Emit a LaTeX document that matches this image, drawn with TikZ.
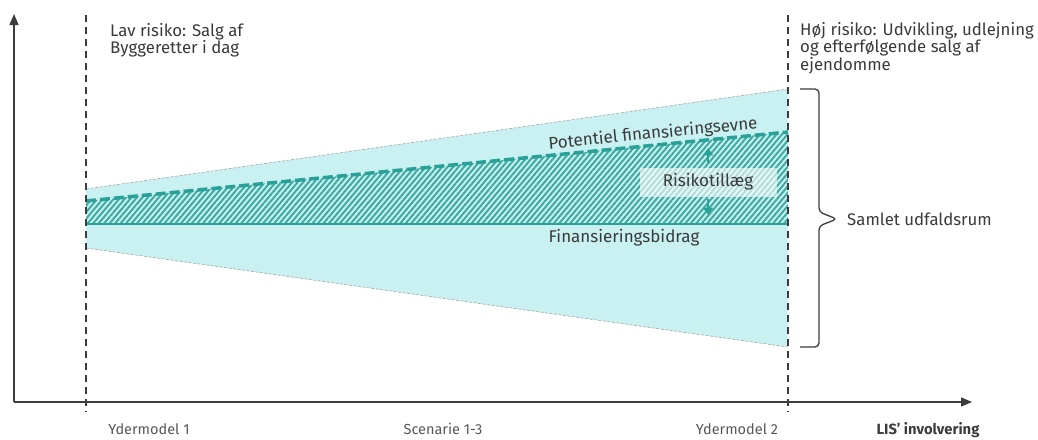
\documentclass[tikz,border=0pt]{standalone}
\usepackage{fontspec}
\setmainfont{Fira Sans}
\usetikzlibrary{arrows.meta,positioning,patterns.meta}

\definecolor{fancyan}{HTML}{C9F1F1}
\definecolor{finteal}{HTML}{2AA198}
\definecolor{axisgray}{HTML}{3C3C3C}
\definecolor{txtgray}{HTML}{3A3A3A}

\begin{document}
\begin{tikzpicture}[x=1pt,y=-1pt]
	\tikzstyle{axis}
	  =[draw=axisgray, line width=1.4pt, -{Triangle[length=11pt,width=9pt]}]
	\tikzstyle{model}
	  =[draw=axisgray, line width=1.3pt, dash pattern=on 7pt off 5pt]
	\tikzstyle{fanedge}
	  =[draw=gray!70, line width=0.6pt, dash pattern=on 3pt off 1.5pt]
	\tikzstyle{note}
	  =[text=txtgray, font=\fontsize{16.8}{15.5}\selectfont, align=left, inner sep=0pt]
	\tikzstyle{tick}
	  =[text=txtgray!85, font=\fontsize{14.5}{16}\selectfont, inner sep=0pt, anchor=base]
	\tikzstyle{curve}
	  =[text=txtgray, font=\fontsize{17}{18}\selectfont, inner sep=0pt]
	\tikzstyle{riskarrow}
	  =[draw=finteal, line width=2.4pt, -{Triangle[length=7pt,width=10pt]}]

	\useasboundingbox (0,0) rectangle (1038,439);

	% corner points of the fan and the two lines
	\coordinate (fanTL) at (86,189);
	\coordinate (fanBL) at (86,248);
	\coordinate (fanTR) at (788,89);
	\coordinate (fanBR) at (788,347);
	\coordinate (potL) at (86,201);
	\coordinate (potR) at (788,132);
	\coordinate (finL) at (86,224);
	\coordinate (finR) at (788,224);

	\fill[fancyan] (fanTL) -- (fanTR) -- (fanBR) -- (fanBL) -- cycle;
	\fill[pattern={Lines[angle=50,distance=4.2pt,line width=2pt]},
	  pattern color=finteal!90]
	  (potL) -- (potR) -- (finR) -- (finL) -- cycle;
	\draw[fanedge] (fanTL) -- (fanTR);
	\draw[fanedge] (fanBL) -- (fanBR);
	\draw[finteal, line width=3.5pt, dash pattern=on 10pt off 4pt] (potL) -- (potR);
	\draw[finteal, line width=2.5pt] (finL) -- (finR);

	\node[curve, fill=white, fill opacity=0.6, text opacity=1,
	  minimum width=137pt, minimum height=29pt] (risk)
	  at (708,182) {Risikotillæg};
	\draw[riskarrow] ([yshift=4pt]risk.north) -- ++(0,-15);
	\draw[riskarrow] ([yshift=-2pt]risk.south) -- ++(0,16);

	\node[curve, rotate=5.6] (potlab) at (653,134) {Potentiel finansieringsevne};
	\node[curve] (finlab) at (624,238) {Finansieringsbidrag};

	% axes and the two outer models
	\coordinate (origo) at (14,402);
	\coordinate (ytop) at (14,14);
	\coordinate (xend) at (972,402);
	\coordinate (m1top) at (86,15);
	\coordinate (m1bot) at (86,412);
	\coordinate (m2top) at (788,15);
	\coordinate (m2bot) at (788,412);

	\draw[model] (m1top) -- (m1bot);
	\draw[model] (m2top) -- (m2bot);
	\draw[axis] (origo) -- (ytop);
	\draw[axis] (origo) -- (xend);

	\node[note, anchor=north west] (lowrisk)
	  at (110,23) {Lav risiko: Salg af\\Byggeretter i dag};
	\node[note, anchor=north west] (highrisk)
	  at (800,22) {Høj risiko: Udvikling, udlejning\\og efterfølgende salg af\\ejendomme};

	% brace round the whole span
	\coordinate (bracetop) at (800,89);
	\coordinate (bracetip) at (837,219);
	\coordinate (bracebot) at (800,347);
	\draw[axisgray, line width=1.3pt, rounded corners=4pt]
	  (bracetop) -- (819,89) -- (819,212) -- (bracetip)
	  -- (819,226) -- (819,347) -- (bracebot);
	\node[note, anchor=west] (span) at (847,219) {Samlet udfaldsrum};

	\node[tick] (m1lab) at (149,434) {Ydermodel 1};
	\node[tick] (scen) at (443,434) {Scenarie 1-3};
	\node[tick] (m2lab) at (737,434) {Ydermodel 2};
	\node[text=axisgray, font=\fontsize{14.8}{16}\selectfont\bfseries,
	  inner sep=0pt, anchor=base] (xlab) at (928,434) {LIS’ involvering};
\end{tikzpicture}
\end{document}
